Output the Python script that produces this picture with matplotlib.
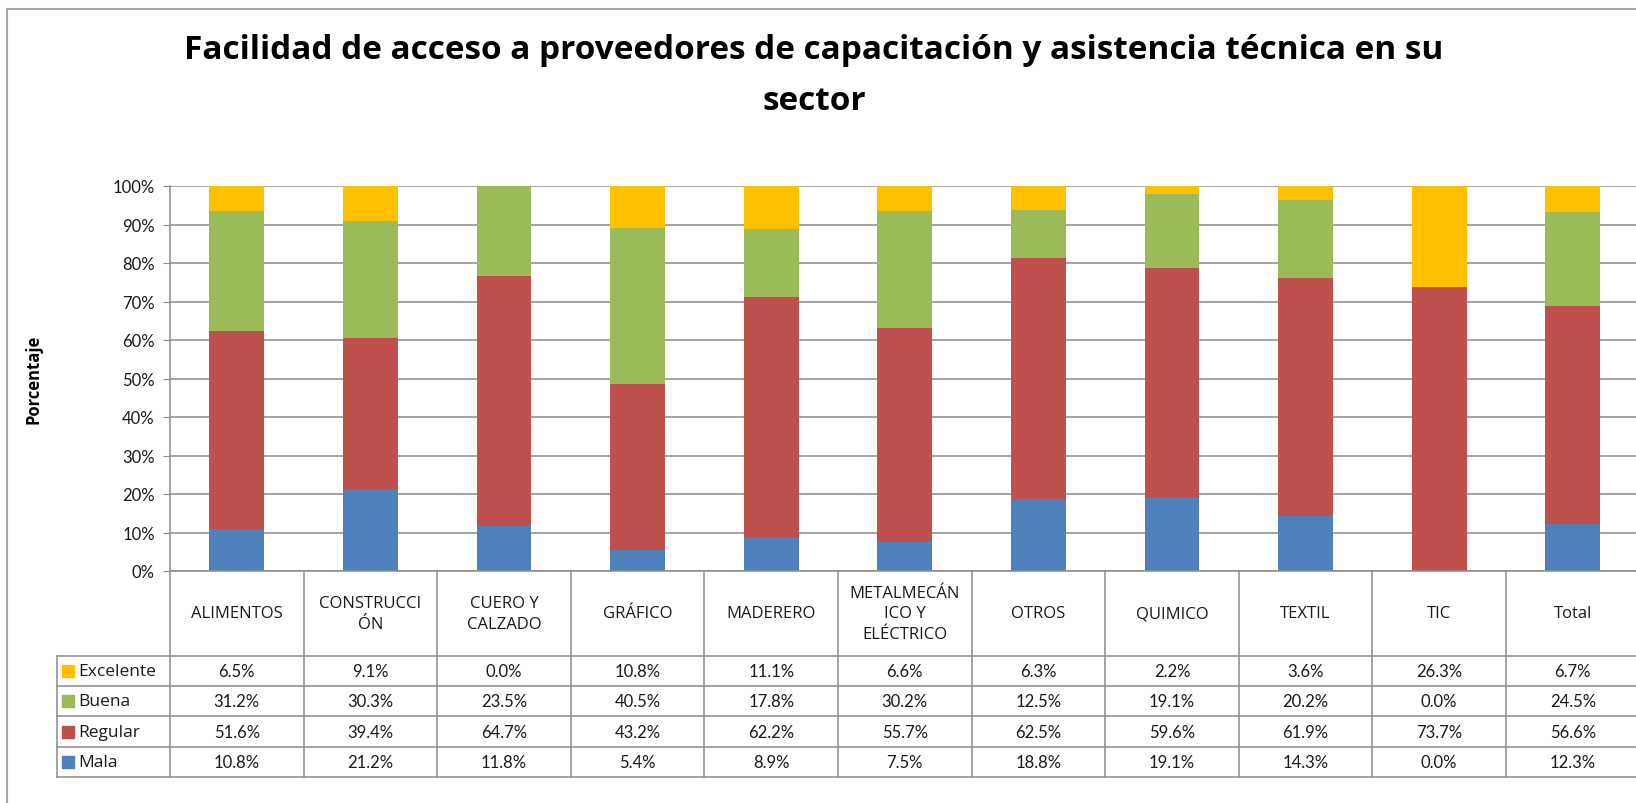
import matplotlib.pyplot as plt
from matplotlib.patches import Rectangle
import numpy as np

plt.rcParams['font.family'] = ['Lato', 'DejaVu Sans']
ancho = ['Open Sans', 'DejaVu Sans']

categorias = ['ALIMENTOS', 'CONSTRUCCI\nÓN', 'CUERO Y\nCALZADO', 'GRÁFICO', 'MADERERO',
              'METALMECÁN\nICO Y\nELÉCTRICO', 'OTROS', 'QUIMICO', 'TEXTIL', 'TIC', 'Total']
series = ['Mala', 'Regular', 'Buena', 'Excelente']
mala = [10.8, 21.2, 11.8, 5.4, 8.9, 7.5, 18.8, 19.1, 14.3, 0.0, 12.3]
regular = [51.6, 39.4, 64.7, 43.2, 62.2, 55.7, 62.5, 59.6, 61.9, 73.7, 56.6]
buena = [31.2, 30.3, 23.5, 40.5, 17.8, 30.2, 12.5, 19.1, 20.2, 0.0, 24.5]
excelente = [6.5, 9.1, 0.0, 10.8, 11.1, 6.6, 6.3, 2.2, 3.6, 26.3, 6.7]
colores = ['#4F81BD', '#C0504D', '#9BBB59', '#FFC000']

W, H = 1636, 804
fig = plt.figure(figsize=(W / 100, H / 100), dpi=100)

# borde del grafico
fig.add_artist(Rectangle((7 / W, -0.2), 1.5, 1.2 - 10 / H, transform=fig.transFigure,
                         fill=False, edgecolor='#A6A6A6', linewidth=1.5))

n = len(categorias)
col_w = 133.6
plot_left = 170
plot_right = plot_left + n * col_w
y0, y100 = 572, 187
tab_bottom = 778
leg_left = 57

ax = fig.add_axes([plot_left / W, 1 - y0 / H, (plot_right - plot_left) / W, (y0 - y100) / H])
x = np.arange(n)
datos = np.array([mala, regular, buena, excelente])
porc = datos / datos.sum(axis=0) * 100
base = np.zeros(n)
for i in range(4):
    ax.bar(x, porc[i], 0.41, bottom=base, color=colores[i], zorder=3)
    base += porc[i]
ax.set_xlim(-0.5, n - 0.5)
ax.set_ylim(0, 100)
ax.set_yticks(np.arange(0, 101, 10))
ax.set_yticklabels([f'{v}%' for v in range(0, 101, 10)], fontsize=12, color='#1a1a1a')
ax.set_xticks([])
ax.grid(axis='y', color='#8C8C8C', linewidth=1.1, zorder=0)
for s in ['top', 'right', 'bottom']:
    ax.spines[s].set_visible(False)
ax.spines['left'].set_color('#8C8C8C')
ax.spines['left'].set_linewidth(1.1)
ax.tick_params(axis='y', length=5, color='#8C8C8C', pad=6)
ax.set_ylabel('Porcentaje', fontsize=12, fontweight='bold', family=ancho)
ax.yaxis.set_label_coords((42 - plot_left) / (plot_right - plot_left), 0.5)

# tabla de datos
leg_w = (plot_left - leg_left) / col_w
tab = fig.add_axes([leg_left / W, 1 - tab_bottom / H, (plot_right - leg_left) / W,
                    (tab_bottom - y0) / H])
hdr = 2.8
tab.set_xlim(-0.5 - leg_w, n - 0.5)
tab.set_ylim(0, 4 + hdr)
tab.axis('off')
lc = '#8C8C8C'
for k in range(n + 1):
    tab.plot([k - 0.5, k - 0.5], [0, 4 + hdr], color=lc, lw=1.1, clip_on=False)
tab.plot([-0.5 - leg_w] * 2, [0, 4], color=lc, lw=1.1, clip_on=False)
for r in range(5):
    tab.plot([-0.5 - leg_w, n - 0.5], [r, r], color=lc, lw=1.1, clip_on=False)
tab.plot([-0.5, n - 0.5], [4 + hdr, 4 + hdr], color=lc, lw=1.1, clip_on=False)

for k, c in enumerate(categorias):
    tab.text(k, 4 + hdr / 2, c, ha='center', va='center', fontsize=12,
             linespacing=1.35, color='#1a1a1a', family=ancho)

filas = list(zip(series, datos, colores))[::-1]
for r, (nombre, vals, col) in enumerate(filas):
    yc = 3.5 - r
    tab.scatter([-0.5 - leg_w + 0.08], [yc], marker='s', s=70, color=col, clip_on=False)
    tab.text(-0.5 - leg_w + 0.16, yc, nombre, ha='left', va='center', fontsize=12.5,
             color='#1a1a1a', family=ancho)
    for k, v in enumerate(vals):
        tab.text(k, yc, f'{v:.1f}%', ha='center', va='center', fontsize=12, color='#1a1a1a')

fig.text(814 / W, 1 - 76 / H, 'Facilidad de acceso a proveedores de capacitación y asistencia técnica en su\nsector',
         ha='center', va='center', fontsize=24, fontweight='bold', linespacing=1.7, family=ancho)

fig.savefig('out.png', dpi=100)
